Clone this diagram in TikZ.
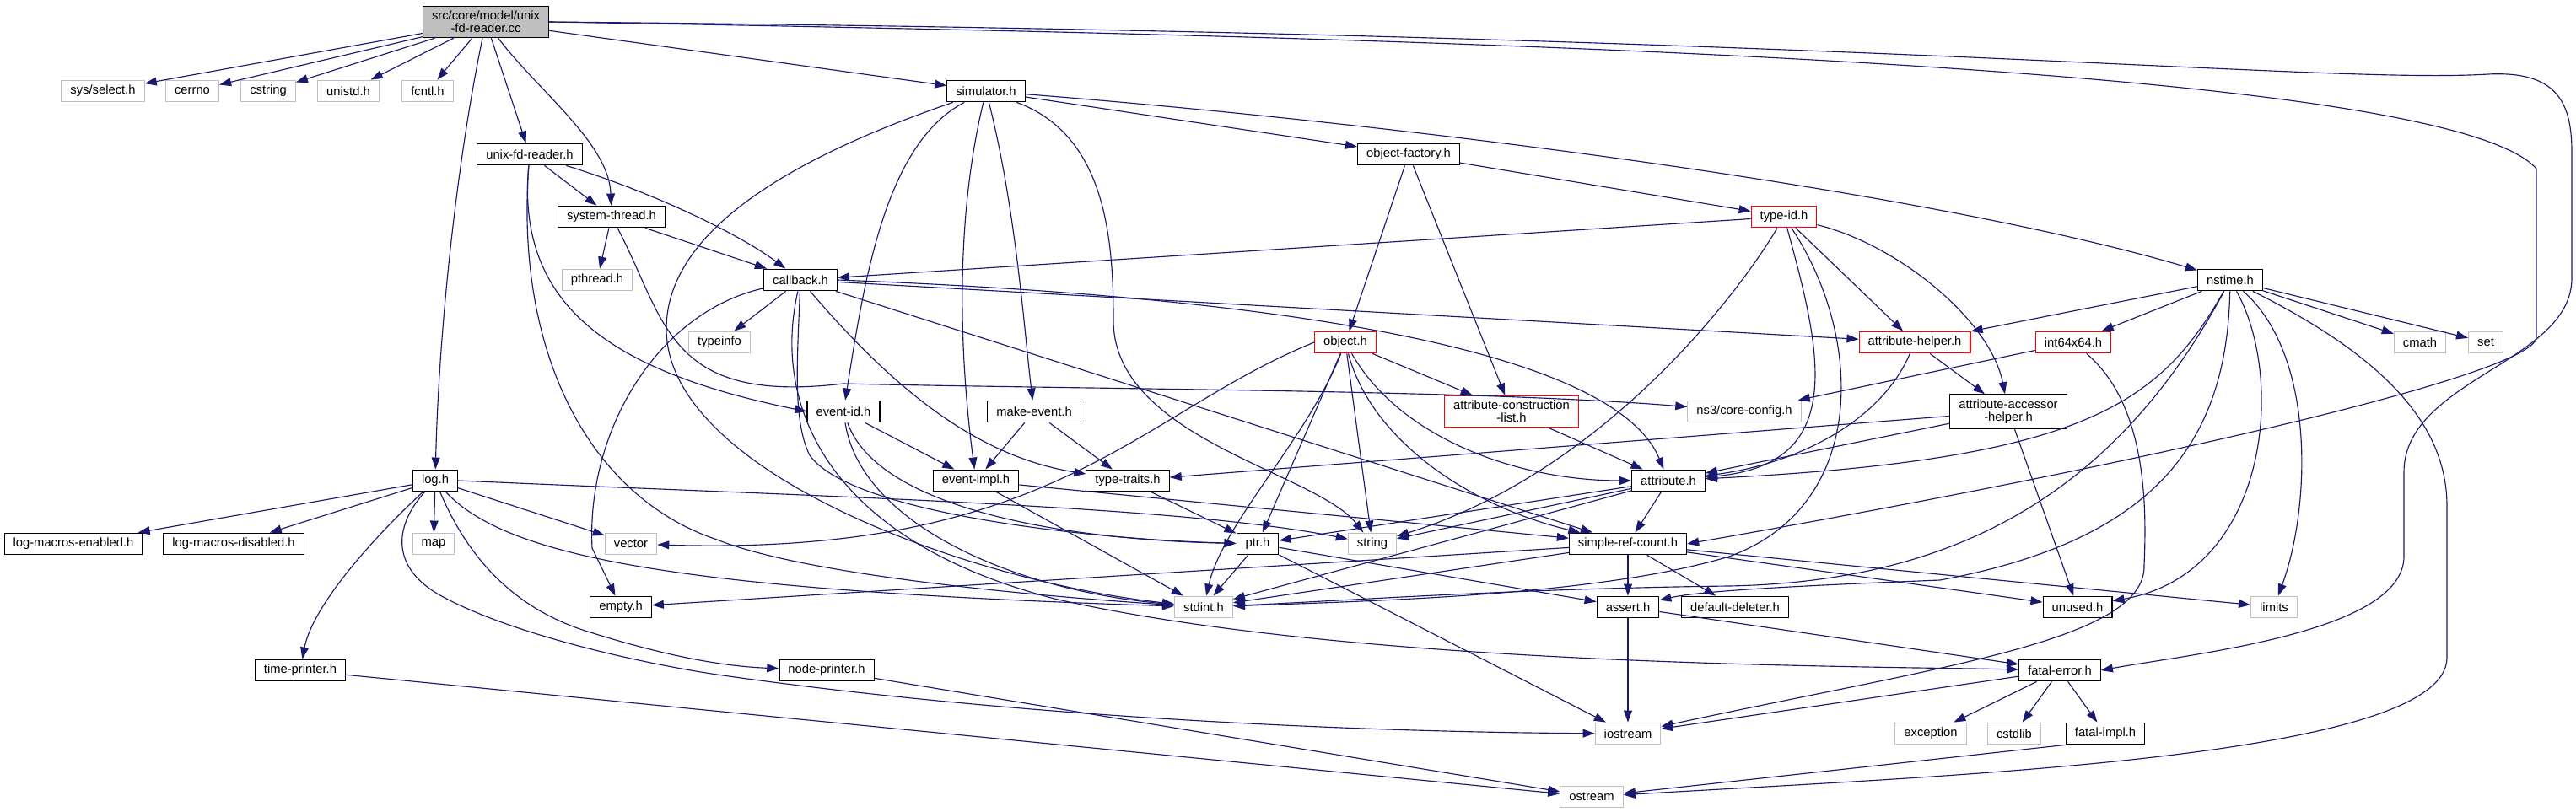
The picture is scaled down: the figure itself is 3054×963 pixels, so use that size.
\documentclass[tikz,border=0pt]{standalone}
\usepackage{fontspec}
\setmainfont{Liberation Sans}
\usetikzlibrary{arrows.meta}
\definecolor{dxblue}{HTML}{191970}
\definecolor{dxgray}{HTML}{BFBFBF}
\definecolor{dxred}{HTML}{FF0000}

\begin{document}
\begin{tikzpicture}[
    x=0.02cm, y=-0.02cm,
    font=\fontsize{8.4}{8.5}\selectfont,
    hdr/.style={
        draw=black,
        fill=white,
        line width=0.65pt,
        inner xsep=6pt,
        inner ysep=3.3pt,
        minimum height=14.6pt,
        align=center
    },
    sys/.style={hdr,draw=dxgray},
    cut/.style={hdr,draw=dxred},
    src/.style={hdr,fill=dxgray},
    inc/.style={-{Triangle[length=8pt,width=5.6pt]},line width=0.65pt,dxblue}
]
\useasboundingbox[fill=white] (0,0) rectangle (3054,963);

% The source file
\node[src] (root) at (576,26) {src/core/model/unix\\-fd-reader.cc};

% Direct includes
\node[sys] (sysselect) at (122,108) {sys/select.h};
\node[sys] (cerrno) at (228,108) {cerrno};
\node[sys] (cstring) at (318,108) {cstring};
\node[sys] (unistd) at (413,108) {unistd.h};
\node[sys] (fcntl) at (507,108) {fcntl.h};
\node[hdr] (simulator) at (1169,108) {simulator.h};

\node[hdr] (unixfdreader) at (628,183) {unix-fd-reader.h};
\node[hdr] (objfactory) at (1670,183) {object-factory.h};

\node[hdr] (systemthread) at (725,257) {system-thread.h};
\node[cut] (typeid) at (2115,257) {type-id.h};

\node[sys] (pthread) at (708,332) {pthread.h};
\node[hdr] (callback) at (949,332) {callback.h};
\node[hdr] (nstime) at (2644,332) {nstime.h};

\node[sys] (typeinfo) at (853,406) {typeinfo};
\node[cut] (object) at (1595,406) {object.h};
\node[cut] (attrhelper) at (2270,406) {attribute-helper.h};
\node[cut] (int64) at (2458,406) {int64x64.h};
\node[sys] (cmath) at (2869,406) {cmath};
\node[sys] (set) at (2947,406) {set};

\node[hdr] (eventid) at (1000,488) {event-id.h};
\node[hdr] (makeevent) at (1226,488) {make-event.h};
\node[cut] (attrconstr) at (1792,488) {attribute-construction\\-list.h};
\node[sys] (coreconfig) at (2068,488) {ns3/core-config.h};
\node[hdr] (accessor) at (2381,488) {attribute-accessor\\-helper.h};

\node[hdr] (logh) at (516,570) {log.h};
\node[hdr] (eventimpl) at (1157,570) {event-impl.h};
\node[hdr] (typetraits) at (1337,570) {type-traits.h};
\node[hdr] (attribute) at (1978,570) {attribute.h};

\node[hdr] (macrosenabled) at (87,645) {log-macros-enabled.h};
\node[hdr] (macrosdisabled) at (277,645) {log-macros-disabled.h};
\node[sys] (map) at (514,645) {map};
\node[sys] (vector) at (748,645) {vector};
\node[hdr] (ptr) at (1491,645) {ptr.h};
\node[sys] (string) at (1627,645) {string};
\node[hdr] (simplerefcount) at (1930,645) {simple-ref-count.h};

\node[hdr] (emptyh) at (736,720) {empty.h};
\node[sys] (stdint) at (1427,720) {stdint.h};
\node[hdr] (assert) at (1930,720) {assert.h};
\node[hdr] (defdeleter) at (2057,720) {default-deleter.h};
\node[hdr] (unused) at (2463,720) {unused.h};
\node[sys] (limits) at (2696,720) {limits};

\node[hdr] (timeprinter) at (356,795) {time-printer.h};
\node[hdr] (nodeprinter) at (980,795) {node-printer.h};
\node[hdr] (fatalerror) at (2442,795) {fatal-error.h};

\node[sys] (iostream) at (1930,870) {iostream};
\node[sys] (exception) at (2289,870) {exception};
\node[sys] (cstdlib) at (2388,870) {cstdlib};
\node[hdr] (fatalimpl) at (2496,870) {fatal-impl.h};

\node[sys] (ostream) at (1887,945) {ostream};

% Includes of the source file
\draw[inc] (root) -- (sysselect);
\draw[inc] (root) -- (cerrno);
\draw[inc] (root) -- (cstring);
\draw[inc] (root) -- (unistd);
\draw[inc] (root) -- (fcntl);
\draw[inc] (root) .. controls (540,200) and (520,400) .. (logh);
\draw[inc] (root) -- (unixfdreader);
\draw[inc] (root) .. controls (640,110) and (722,170) .. (systemthread);
\draw[inc] (root) -- (simulator);
\draw[inc] (root.east) .. controls (1800,45) and (2900,80) .. (3007,200)
    -- (3007,400) .. controls (3007,440) and (2600,540) .. (simplerefcount.east);
\draw[inc] (root.east) .. controls (2200,40) and (2750,100) .. (2950,88)
    .. controls (3030,84) and (3049,120) .. (3049,180) -- (3049,330)
    .. controls (3049,430) and (2850,450) .. (2850,560) -- (2850,660)
    .. controls (2850,750) and (2600,775) .. (fatalerror.east);

% simulator.h
\draw[inc] (simulator) .. controls (1050,170) and (1025,330) .. (eventid);
\draw[inc] (simulator) .. controls (1135,250) and (1135,400) .. (eventimpl);
\draw[inc] (simulator) .. controls (1205,250) and (1215,400) .. (makeevent);
\draw[inc] (simulator) .. controls (1310,160) and (1320,280) .. (1320,380)
    .. controls (1320,520) and (1560,560) .. (string);
\draw[inc] (simulator) .. controls (900,200) and (790,290) .. (790,390)
    .. controls (790,560) and (1150,690) .. (stdint);
\draw[inc] (simulator) .. controls (1700,150) and (2300,230) .. (nstime);
\draw[inc] (simulator) -- (objfactory);

% unix-fd-reader.h and system-thread.h
\draw[inc] (unixfdreader) -- (systemthread);
\draw[inc] (unixfdreader) .. controls (780,230) and (880,280) .. (callback);
\draw[inc] (unixfdreader) .. controls (612,360) and (720,440) .. (eventid.west);
\draw[inc] (unixfdreader) .. controls (610,420) and (700,590) .. (850,640)
    .. controls (950,680) and (1200,705) .. (stdint);
\draw[inc] (systemthread) -- (pthread);
\draw[inc] (systemthread) -- (callback);
\draw[inc] (systemthread) .. controls (790,380) and (790,480) .. (1000,455)
    .. controls (1300,462) and (1750,462) .. (coreconfig);

% object-factory.h and type-id.h
\draw[inc] (objfactory) -- (object);
\draw[inc] (objfactory) -- (attrconstr);
\draw[inc] (objfactory) -- (typeid);
\draw[inc] (typeid) -- (callback);
\draw[inc] (typeid) .. controls (2060,350) and (1900,560) .. (string);
\draw[inc] (typeid) .. controls (2160,420) and (2190,550) .. (attribute);
\draw[inc] (typeid) .. controls (2210,400) and (2215,600) .. (2050,660)
    .. controls (1900,705) and (1650,712) .. (stdint);
\draw[inc] (typeid) -- (attrhelper);
\draw[inc] (typeid) .. controls (2250,290) and (2360,380) .. (accessor);

% callback.h
\draw[inc] (callback) -- (typeinfo);
\draw[inc] (callback) .. controls (780,370) and (695,510) .. (702,650) -- (emptyh);
\draw[inc] (callback) .. controls (945,430) and (940,500) .. (960,540)
    .. controls (1010,610) and (1300,640) .. (ptr);
\draw[inc] (callback) .. controls (915,480) and (980,640) .. (1250,710)
    .. controls (1600,790) and (2200,790) .. (fatalerror);
\draw[inc] (callback) .. controls (1050,450) and (1150,540) .. (typetraits);
\draw[inc] (callback) -- (simplerefcount);
\draw[inc] (callback.east) .. controls (1600,355) and (1920,430) .. (attribute);
\draw[inc] (callback) -- (attrhelper);

% nstime.h
\draw[inc] (nstime) -- (attrhelper);
\draw[inc] (nstime) -- (int64);
\draw[inc] (nstime) -- (cmath);
\draw[inc] (nstime) -- (set);
\draw[inc] (nstime) .. controls (2560,480) and (2470,545) .. (attribute);
\draw[inc] (nstime) .. controls (2500,600) and (2300,690) .. (2050,695)
    .. controls (1800,698) and (1600,712) .. (stdint);
\draw[inc] (nstime) .. controls (2640,520) and (2560,640) .. (2300,688)
    .. controls (2150,694) and (2020,700) .. (assert);
\draw[inc] (nstime) .. controls (2710,450) and (2690,680) .. (unused);
\draw[inc] (nstime) .. controls (2745,420) and (2740,600) .. (limits);
\draw[inc] (nstime) .. controls (2820,420) and (2901,500) .. (2901,600) -- (2901,780)
    .. controls (2901,900) and (2300,920) .. (ostream);

% int64x64.h and the attribute helpers
\draw[inc] (int64) -- (coreconfig);
\draw[inc] (int64) .. controls (2545,480) and (2545,600) .. (2542,670)
    .. controls (2545,760) and (2300,790) .. (iostream);
\draw[inc] (attrhelper) .. controls (2230,500) and (2130,550) .. (attribute);
\draw[inc] (attrhelper) -- (accessor);
\draw[inc] (accessor) -- (attribute);
\draw[inc] (accessor) -- (typetraits);
\draw[inc] (accessor) -- (unused);

% object.h
\draw[inc] (object.west) .. controls (1350,490) and (1250,660) .. (vector);
\draw[inc] (object) -- (ptr);
\draw[inc] (object) .. controls (1550,520) and (1450,620) .. (stdint);
\draw[inc] (object) -- (string);
\draw[inc] (object) .. controls (1625,520) and (1740,600) .. (simplerefcount);
\draw[inc] (object) .. controls (1660,520) and (1800,570) .. (attribute);
\draw[inc] (object) -- (attrconstr);
\draw[inc] (attrconstr) -- (attribute);

% attribute.h
\draw[inc] (attribute) -- (string);
\draw[inc] (attribute) -- (ptr);
\draw[inc] (attribute) -- (stdint);
\draw[inc] (attribute) -- (simplerefcount);

% events
\draw[inc] (eventid) -- (eventimpl);
\draw[inc] (eventid) .. controls (1040,600) and (1250,640) .. (ptr);
\draw[inc] (eventid) .. controls (1020,620) and (1200,700) .. (stdint);
\draw[inc] (makeevent) -- (eventimpl);
\draw[inc] (makeevent) -- (typetraits);
\draw[inc] (eventimpl) -- (simplerefcount);
\draw[inc] (eventimpl) -- (stdint);
\draw[inc] (typetraits) -- (ptr);

% log.h
\draw[inc] (logh) -- (macrosenabled);
\draw[inc] (logh) -- (macrosdisabled);
\draw[inc] (logh) .. controls (440,640) and (370,720) .. (timeprinter);
\draw[inc] (logh) .. controls (470,620) and (460,670) .. (520,705)
    .. controls (600,750) and (750,785) .. (850,800)
    .. controls (1200,850) and (1600,868) .. (iostream);
\draw[inc] (logh) -- (map);
\draw[inc] (logh) .. controls (550,650) and (600,720) .. (700,750)
    .. controls (780,775) and (850,790) .. (nodeprinter);
\draw[inc] (logh) .. controls (600,660) and (800,700) .. (stdint);
\draw[inc] (logh) -- (vector);
\draw[inc] (logh.east) .. controls (1000,590) and (1400,600) .. (string);

% ptr.h and simple-ref-count.h
\draw[inc] (ptr) -- (stdint);
\draw[inc] (ptr) -- (assert);
\draw[inc] (ptr) -- (iostream);
\draw[inc] (simplerefcount) -- (assert);
\draw[inc] (simplerefcount) -- (defdeleter);
\draw[inc] (simplerefcount) -- (emptyh);
\draw[inc] (simplerefcount) -- (stdint);
\draw[inc] (simplerefcount) -- (unused);
\draw[inc] (simplerefcount) -- (limits);

% assert.h and fatal-error.h
\draw[inc] (assert) -- (iostream);
\draw[inc] (assert) -- (fatalerror);
\draw[inc] (fatalerror) -- (iostream);
\draw[inc] (fatalerror) -- (exception);
\draw[inc] (fatalerror) -- (cstdlib);
\draw[inc] (fatalerror) -- (fatalimpl);

% Everything that ends in ostream
\draw[inc] (fatalimpl.south west) -- (ostream);
\draw[inc] (timeprinter) -- (ostream);
\draw[inc] (nodeprinter) -- (ostream);

\end{tikzpicture}
\end{document}
